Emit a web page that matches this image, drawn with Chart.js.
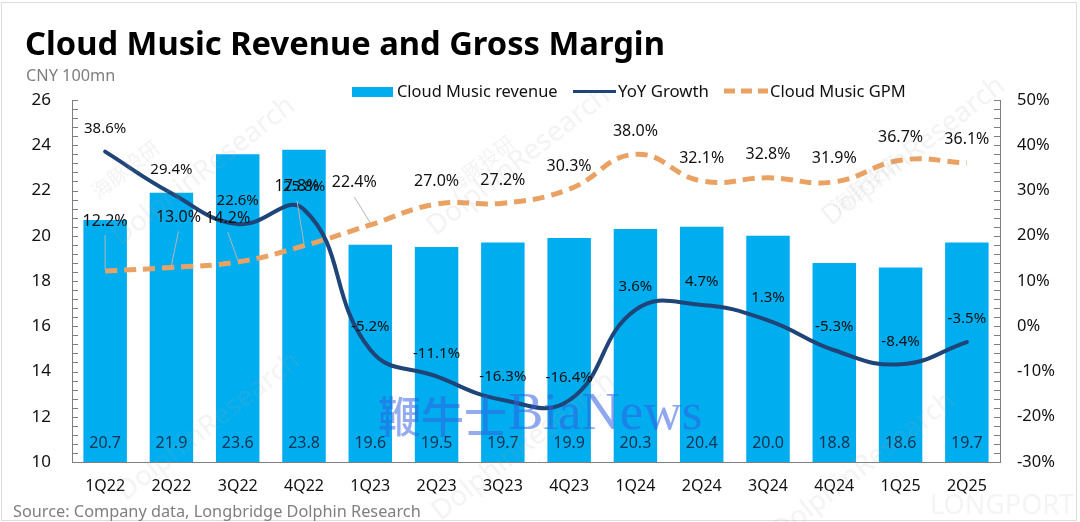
<!DOCTYPE html>
<html>
<head>
<meta charset="utf-8">
<title>Cloud Music Revenue and Gross Margin</title>
<script src="https://cdn.jsdelivr.net/npm/chart.js@4"></script>
<style>
  html, body { margin: 0; padding: 0; background: #fff; }
  #wrap { position: relative; width: 1080px; height: 522px; overflow: hidden; font-family: "Noto Sans", sans-serif; color: #111; }
  #frame { position: absolute; left: 1px; top: 2px; width: 1074px; height: 517px; border: 1px solid #ddd; }
  canvas { position: absolute; left: 0; top: 0; }
  .txt { position: absolute; white-space: nowrap; line-height: 1; }
  .mark { position: absolute; white-space: nowrap; color: rgba(170,170,170,0.14); font-size: 28px; line-height: 38px; transform: rotate(-38deg); transform-origin: center; }
  .small-mark { font-size: 20px; font-family: "Noto Sans CJK SC"; }
</style>
</head>
<body>
<div id="wrap">
  <div id="frame"></div>
  <canvas id="chart" width="1080" height="522"></canvas>

  <div class="mark" style="left:90px;top:150px">DolphinResearch</div>
  <div class="mark small-mark" style="left:85px;top:150px">海豚投研</div>
  <div class="mark" style="left:405px;top:140px">DolphinResearch</div>
  <div class="mark small-mark" style="left:440px;top:145px">海豚投研</div>
  <div class="mark" style="left:800px;top:130px">DolphinResearch</div>
  <div class="mark small-mark" style="left:825px;top:165px">海豚投研</div>
  <div class="mark" style="left:95px;top:405px">DolphinResearch</div>
  <div class="mark" style="left:410px;top:425px">DolphinResearch</div>
  <div class="mark" style="left:750px;top:445px">DolphinResearch</div>
  <div class="txt" style="left:930px;top:490px;font-size:27px;color:rgba(170,170,170,0.13)">LONGPORT</div>

  <div class="txt" style="left:25px;top:27px;font-size:32.7px;font-weight:700;color:#000">Cloud Music Revenue and Gross Margin</div>
  <div class="txt" style="left:26px;top:67px;font-size:16.3px;color:#7f7f7f">CNY 100mn</div>

  <div style="position:absolute;left:352px;top:87px;width:41px;height:10px;background:#00adef"></div>
  <div class="txt" style="left:397px;top:83px;font-size:16.4px">Cloud Music revenue</div>
  <div style="position:absolute;left:573px;top:90px;width:43px;height:3px;background:#1f4478"></div>
  <div class="txt" style="left:618px;top:83px;font-size:16.8px">YoY Growth</div>
  <svg style="position:absolute;left:722px;top:85px" width="48" height="12"><line x1="2" y1="6" x2="46" y2="6" stroke="#e9a263" stroke-width="5" stroke-dasharray="11 6"/></svg>
  <div class="txt" style="left:770px;top:83px;font-size:16.5px">Cloud Music GPM</div>

  <div class="txt" style="left:13px;top:503px;font-size:16.3px;color:#7f7f7f">Source: Company data, Longbridge Dolphin Research</div>

  <div class="txt" style="left:378px;top:393px;font-size:43px;font-weight:500;font-family:'Noto Sans CJK SC';color:rgba(50,95,225,0.52)">鞭牛士</div>
  <div class="txt" style="left:508px;top:385px;font-size:53px;font-family:'Liberation Serif';color:rgba(50,95,225,0.55)">BiaNews</div>
</div>

<script>
var categories = ["1Q22","2Q22","3Q22","4Q22","1Q23","2Q23","3Q23","4Q23","1Q24","2Q24","3Q24","4Q24","1Q25","2Q25"];
var revenue = [20.7,21.9,23.6,23.8,19.6,19.5,19.7,19.9,20.3,20.4,20.0,18.8,18.6,19.7];
var yoyGrowth = [38.6,29.4,22.6,25.8,-5.2,-11.1,-16.3,-16.4,3.6,4.7,1.3,-5.3,-8.4,-3.5];
var grossMargin = [12.2,13.0,14.2,17.8,22.4,27.0,27.2,30.3,38.0,32.1,32.8,31.9,36.7,36.1];

// label shifts from the point, only the crowded 2022 margin labels move
var gpmLabelDx = [0,7,-10,-7,-16,0,0,0,0,0,0,0,0,0];
var gpmLabelDy = [-50,-50,-44,-59,-42,-23,-23,-23,-23,-23,-23,-23,-23,-23];
var gpmLeaders = 5;

var FONT = '"Noto Sans", sans-serif';

function minorTicks(chart, scaleId, step, dir) {
  var scale = chart.scales[scaleId];
  var ctx = chart.ctx;
  var count = Math.round((scale.max - scale.min) / step);
  var edge = dir > 0 ? chart.chartArea.left : chart.chartArea.right;
  ctx.strokeStyle = "#7f7f7f";
  ctx.lineWidth = 1;
  ctx.beginPath();
  for (var i = 0; i <= count; i++) {
    var y = Math.round(scale.getPixelForValue(scale.min + i * step)) + 0.5;
    ctx.moveTo(edge, y);
    ctx.lineTo(edge + dir * 6, y);
  }
  ctx.stroke();
}

var labelPlugin = {
  id: "labelPlugin",
  afterDatasetsDraw: function(chart) {
    var ctx = chart.ctx;
    var bars = chart.getDatasetMeta(0).data;
    var yoy = chart.getDatasetMeta(1).data;
    var gpm = chart.getDatasetMeta(2).data;
    var bottom = chart.chartArea.bottom;

    ctx.save();
    minorTicks(chart, "y", 0.4, 1);
    minorTicks(chart, "y1", 2, -1);

    ctx.strokeStyle = "#b5b5b5";
    ctx.lineWidth = 1;
    for (var i = 0; i < gpmLeaders; i++) {
      ctx.beginPath();
      ctx.moveTo(gpm[i].x + gpmLabelDx[i], gpm[i].y + gpmLabelDy[i] + 14);
      ctx.lineTo(gpm[i].x, gpm[i].y - 2);
      ctx.stroke();
    }

    ctx.textAlign = "center";
    ctx.textBaseline = "middle";
    categories.forEach(function(c, i) {
      ctx.fillStyle = "#0f3350";
      ctx.font = "16px " + FONT;
      ctx.fillText(revenue[i].toFixed(1), bars[i].x, bottom - 19);

      ctx.fillStyle = "#111";
      ctx.font = "15px " + FONT;
      ctx.fillText(yoyGrowth[i].toFixed(1) + "%", yoy[i].x, yoy[i].y - 23);

      ctx.font = "16px " + FONT;
      ctx.fillText(grossMargin[i].toFixed(1) + "%", gpm[i].x + gpmLabelDx[i], gpm[i].y + gpmLabelDy[i]);
    });
    ctx.restore();
  }
};

new Chart("chart", {
  data: {
    labels: categories,
    datasets: [
      { type: "bar", label: "Cloud Music revenue", data: revenue, yAxisID: "y", backgroundColor: "#00adef", categoryPercentage: 1, barPercentage: 0.656, order: 3 },
      { type: "line", label: "YoY Growth", data: yoyGrowth, yAxisID: "y1", borderColor: "#1f4478", borderWidth: 4, borderCapStyle: "round", tension: 0.45, pointRadius: 0, order: 2 },
      { type: "line", label: "Cloud Music GPM", data: grossMargin, yAxisID: "y1", borderColor: "#e9a263", borderWidth: 5, borderDash: [12, 7], tension: 0.45, pointRadius: 0, order: 1 }
    ]
  },
  options: {
    responsive: false,
    animation: false,
    layout: { padding: { top: 100, left: 0, right: 0, bottom: 0 } },
    plugins: { legend: { display: false }, tooltip: { enabled: false } },
    scales: {
      x: {
        grid: { drawOnChartArea: false, drawTicks: false },
        border: { color: "#7f7f7f" },
        ticks: { color: "#111", padding: 15, font: { family: FONT, size: 16 } },
        afterFit: function(s) { s.height = 60; }
      },
      y: {
        position: "left", min: 10, max: 26,
        grid: { drawOnChartArea: false, drawTicks: false },
        border: { color: "#7f7f7f" },
        ticks: { stepSize: 2, color: "#111", padding: 21, font: { family: FONT, size: 17 } },
        afterFit: function(s) { s.width = 72; }
      },
      y1: {
        position: "right", min: -30, max: 50,
        grid: { drawOnChartArea: false, drawTicks: false },
        border: { color: "#7f7f7f" },
        ticks: { stepSize: 10, color: "#111", padding: 17, font: { family: FONT, size: 16.5 }, callback: function(v) { return v + "%"; } },
        afterFit: function(s) { s.width = 80; }
      }
    }
  },
  plugins: [labelPlugin]
});
</script>
</body>
</html>
